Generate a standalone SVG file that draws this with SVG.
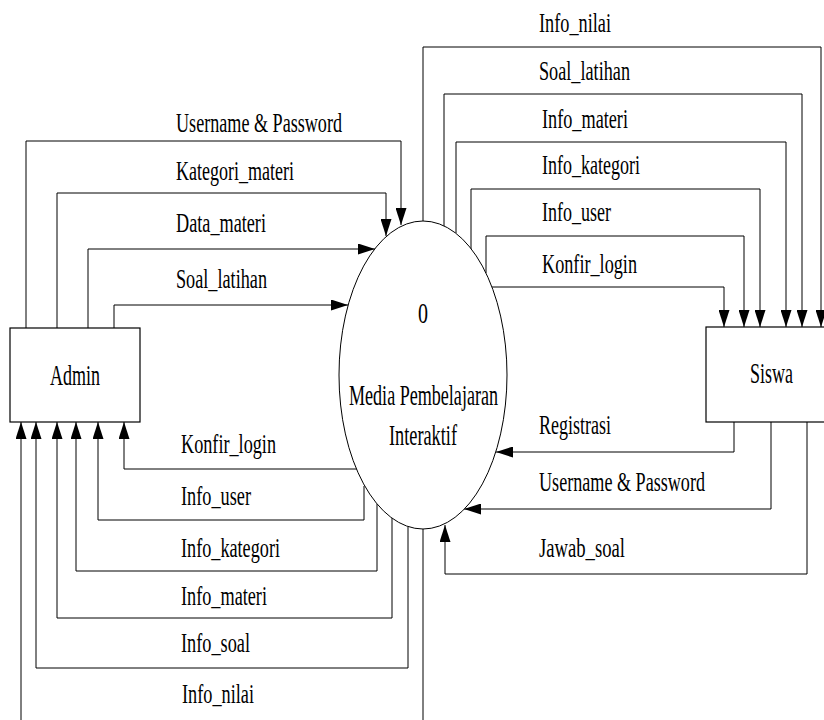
<svg xmlns="http://www.w3.org/2000/svg" width="824" height="720" viewBox="0 0 824 720">
  <style>
    .flow { fill: none; stroke: #000; stroke-width: 1; marker-end: url(#head); }
    .box { fill: #fff; stroke: #000; stroke-width: 1.2; }
    .proc { fill: #fff; stroke: #000; stroke-width: 1; }
    text { font-family: "Liberation Serif", "Times New Roman", serif; font-size: 27px; fill: #000; }
    .node-text { font-size: 30px; }
  </style>
  <defs>
    <marker id="head" markerUnits="userSpaceOnUse" markerWidth="17" markerHeight="11" refX="17" refY="5.5" orient="auto">
      <path d="M0,0 L17,5.5 L0,11 z" fill="#000"/>
    </marker>
  </defs>

  <rect width="824" height="720" fill="#fff"/>

  <!-- data flows -->
  <g id="connectors">
    <!-- Admin to process -->
    <path class="flow" d="M26,328 V141 H401 V225"/>
    <path class="flow" d="M57,328 V193 H386 V236"/>
    <path class="flow" d="M88,328 V249 H375"/>
    <path class="flow" d="M114,328 V305 H348"/>
    <!-- process to Admin -->
    <path class="flow" d="M357,469 H124 V422"/>
    <path class="flow" d="M364,486 V520 H98 V422"/>
    <path class="flow" d="M377,504 V571 H76 V422"/>
    <path class="flow" d="M392,518 V618 H57 V422"/>
    <path class="flow" d="M408,527 V668 H36 V422"/>
    <path class="flow" d="M423,529 V730 H21 V422"/>
    <!-- process to Siswa -->
    <path class="flow" d="M423,221 V47 H821 V327"/>
    <path class="flow" d="M444,226 V94 H802 V327"/>
    <path class="flow" d="M456,233 V142 H786 V327"/>
    <path class="flow" d="M471,249 V189 H760 V327"/>
    <path class="flow" d="M486,273 V236 H744 V327"/>
    <path class="flow" d="M492,287 H724 V327"/>
    <!-- Siswa to process -->
    <path class="flow" d="M734,422 V452 H496"/>
    <path class="flow" d="M771,422 V509 H464"/>
    <path class="flow" d="M807,422 V574 H445 V525"/>
  </g>

  <g id="flow-labels">
    <text x="176" y="132" textLength="166" lengthAdjust="spacingAndGlyphs">Username &amp; Password</text>
    <text x="176" y="180" textLength="118" lengthAdjust="spacingAndGlyphs">Kategori_materi</text>
    <text x="176" y="232" textLength="90" lengthAdjust="spacingAndGlyphs">Data_materi</text>
    <text x="176" y="288" textLength="91" lengthAdjust="spacingAndGlyphs">Soal_latihan</text>

    <text x="181" y="453" textLength="95" lengthAdjust="spacingAndGlyphs">Konfir_login</text>
    <text x="181" y="505" textLength="70" lengthAdjust="spacingAndGlyphs">Info_user</text>
    <text x="181" y="557" textLength="99" lengthAdjust="spacingAndGlyphs">Info_kategori</text>
    <text x="181" y="605" textLength="86" lengthAdjust="spacingAndGlyphs">Info_materi</text>
    <text x="181" y="652" textLength="69" lengthAdjust="spacingAndGlyphs">Info_soal</text>
    <text x="182" y="703" textLength="72" lengthAdjust="spacingAndGlyphs">Info_nilai</text>

    <text x="539" y="32" textLength="72" lengthAdjust="spacingAndGlyphs">Info_nilai</text>
    <text x="539" y="80" textLength="91" lengthAdjust="spacingAndGlyphs">Soal_latihan</text>
    <text x="542" y="128" textLength="86" lengthAdjust="spacingAndGlyphs">Info_materi</text>
    <text x="542" y="174" textLength="98" lengthAdjust="spacingAndGlyphs">Info_kategori</text>
    <text x="542" y="221" textLength="69" lengthAdjust="spacingAndGlyphs">Info_user</text>
    <text x="542" y="273" textLength="95" lengthAdjust="spacingAndGlyphs">Konfir_login</text>

    <text x="539" y="434" textLength="72" lengthAdjust="spacingAndGlyphs">Registrasi</text>
    <text x="539" y="491" textLength="166" lengthAdjust="spacingAndGlyphs">Username &amp; Password</text>
    <text x="539" y="557" textLength="86" lengthAdjust="spacingAndGlyphs">Jawab_soal</text>
  </g>

  <!-- external entity: Admin -->
  <g id="admin">
    <rect class="box" x="10" y="328" width="130" height="94"/>
    <text class="node-text" x="50" y="385" textLength="50" lengthAdjust="spacingAndGlyphs">Admin</text>
  </g>

  <!-- external entity: Siswa -->
  <g id="siswa">
    <rect class="box" x="706" y="327" width="130" height="95"/>
    <text class="node-text" x="750" y="383" textLength="43" lengthAdjust="spacingAndGlyphs">Siswa</text>
  </g>

  <!-- process 0 -->
  <g id="process-0">
    <ellipse class="proc" cx="423" cy="375" rx="84" ry="154"/>
    <text class="node-text" x="418" y="323" textLength="10" lengthAdjust="spacingAndGlyphs">0</text>
    <text class="node-text" x="349" y="405" textLength="149" lengthAdjust="spacingAndGlyphs">Media Pembelajaran</text>
    <text class="node-text" x="389" y="445" textLength="68" lengthAdjust="spacingAndGlyphs">Interaktif</text>
  </g>
</svg>
